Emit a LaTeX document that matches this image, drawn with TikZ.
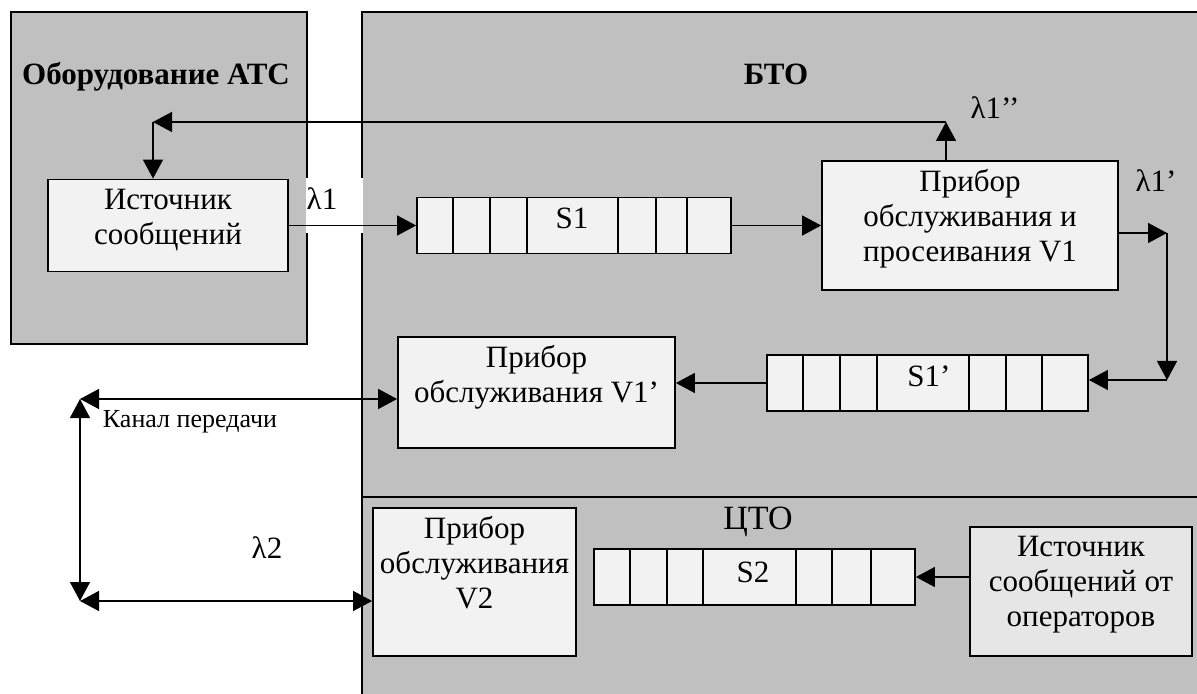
\documentclass[tikz,border=0pt]{standalone}
\usepackage{fontspec}
\setmainfont{Liberation Serif}
\usetikzlibrary{arrows.meta}
\definecolor{panelgray}{HTML}{C0C0C0}
\definecolor{boxfill}{HTML}{F2F2F2}
\definecolor{srcfill}{HTML}{E6E6E6}
\tikzset{
  panel/.style={draw=black,fill=panelgray,line width=0.9pt},
  box/.style={draw=black,fill=boxfill,line width=0.9pt,inner sep=0pt},
  queue/.style={box,minimum height=28pt},
  txt/.style={align=center,inner sep=0pt,font=\fontsize{15.5}{17.5}\selectfont},
  arr/.style={line width=0.7pt,-{Triangle[length=9.5pt,width=10pt]}},
  dblarr/.style={line width=0.7pt,{Triangle[length=9.5pt,width=10pt]}-{Triangle[length=9.5pt,width=10pt]}},
}

\begin{document}
\begin{tikzpicture}[x=0.5pt,y=-0.5pt]
	\clip (0,0) rectangle (1197,694);
	% panels
	\draw[panel] (362,12) rectangle (1240,740);
	\draw[line width=0.9pt] (362,497) -- (1240,497);
	\draw[panel] (11,12) rectangle (307,344);
	\fill[white] (306,178) rectangle (363,233);

	\node[txt,font=\fontsize{15.5}{18}\selectfont\bfseries] (atctitle) at (156,77) {Оборудование АТС};
	\node[txt,font=\fontsize{15.5}{18}\selectfont\bfseries] (btotitle) at (776,74) {БТО};
	\node[txt,font=\fontsize{17}{20}\selectfont] (ctotitle) at (758,522) {ЦТО};

	% devices
	\node[box,minimum width=120pt,minimum height=46pt] (src) at (168,225.5) {};
	\node[txt] (srctext) at (168,220.5) {Источник\\сообщений};
	\node[box,minimum width=148pt,minimum height=64.5pt] (v1) at (970,225.5) {};
	\node[txt] (v1text) at (970,219) {Прибор\\обслуживания и\\просеивания V1};
	\node[box,minimum width=138.5pt,minimum height=55.5pt] (v1p) at (536.5,392.5) {};
	\node[txt] (v1ptext) at (536.5,377.5) {Прибор\\обслуживания V1’};
	\node[box,minimum width=101.5pt,minimum height=74pt] (v2) at (474.5,582) {};
	\node[txt] (v2text) at (474.5,562.5) {Прибор\\обслуживания\\V2};
	\node[box,fill=srcfill,minimum width=111pt,minimum height=64.5pt] (src2) at (1081,591.5) {};
	\node[txt] (src2text) at (1081,585) {Источник\\сообщений от\\операторов};

	% queues
	\node[queue,minimum width=157pt] (s1) at (574,225.5) {};
	\foreach \cx in {37,74,111,202,240,271}
		\draw[line width=0.9pt] ([xshift=\cx*0.5pt]s1.north west) -- ([xshift=\cx*0.5pt]s1.south west);
	\node[txt] (s1lbl) at (572,218) {S1};
	\node[queue,minimum width=160.5pt] (s1p) at (927.5,383) {};
	\foreach \cx in {37,74,111,203,240,276}
		\draw[line width=0.9pt] ([xshift=\cx*0.5pt]s1p.north west) -- ([xshift=\cx*0.5pt]s1p.south west);
	\node[txt] (s1plbl) at (929,376) {S1’};
	\node[queue,minimum width=160.5pt] (s2) at (754.5,577) {};
	\foreach \cx in {37,74,110,203,239,278}
		\draw[line width=0.9pt] ([xshift=\cx*0.5pt]s2.north west) -- ([xshift=\cx*0.5pt]s2.south west);
	\node[txt] (s2lbl) at (753,572) {S2};

	% flows
	\coordinate (fbR) at (946,122);
	\coordinate (fbL) at (153,122);
	\coordinate (rc1) at (1167,233);
	\coordinate (rc2) at (1167,380);
	\coordinate (ch1) at (80,399);
	\coordinate (ch2) at (80,601);
	\draw[arr] (src.east) -- (src.east -| s1.west);
	\draw[arr] (s1.east) -- (s1.east -| v1.west);
	\draw[arr] (fbR |- v1.north) -- (fbR);
	\draw[arr] (fbR) -- (fbL);
	\draw[arr] (fbL) -- (fbL |- src.north);
	\draw[arr] (v1.east |- rc1) -- (rc1);
	\draw[arr] (rc1) -- (rc2);
	\draw[arr] (rc2) -- (rc2 -| s1p.east);
	\draw[arr] (s1p.west) -- (s1p.west -| v1p.east);
	\draw[dblarr] (ch1) -- (ch1 -| v1p.west);
	\draw[dblarr] (ch1) -- (ch2);
	\draw[dblarr] (ch2) -- (ch2 -| v2.west);
	\draw[arr] (s2.east -| src2.west) -- (s2.east);

	\node[txt] (lam1) at (322,199) {λ1};
	\node[txt] (lam1pp) at (995,108) {λ1’’};
	\node[txt] (lam1p) at (1156,181) {λ1’};
	\node[txt] (lam2) at (267,548) {λ2};
	\node[txt,font=\fontsize{13}{15}\selectfont] (chan) at (190,422) {Канал передачи};
\end{tikzpicture}
\end{document}
